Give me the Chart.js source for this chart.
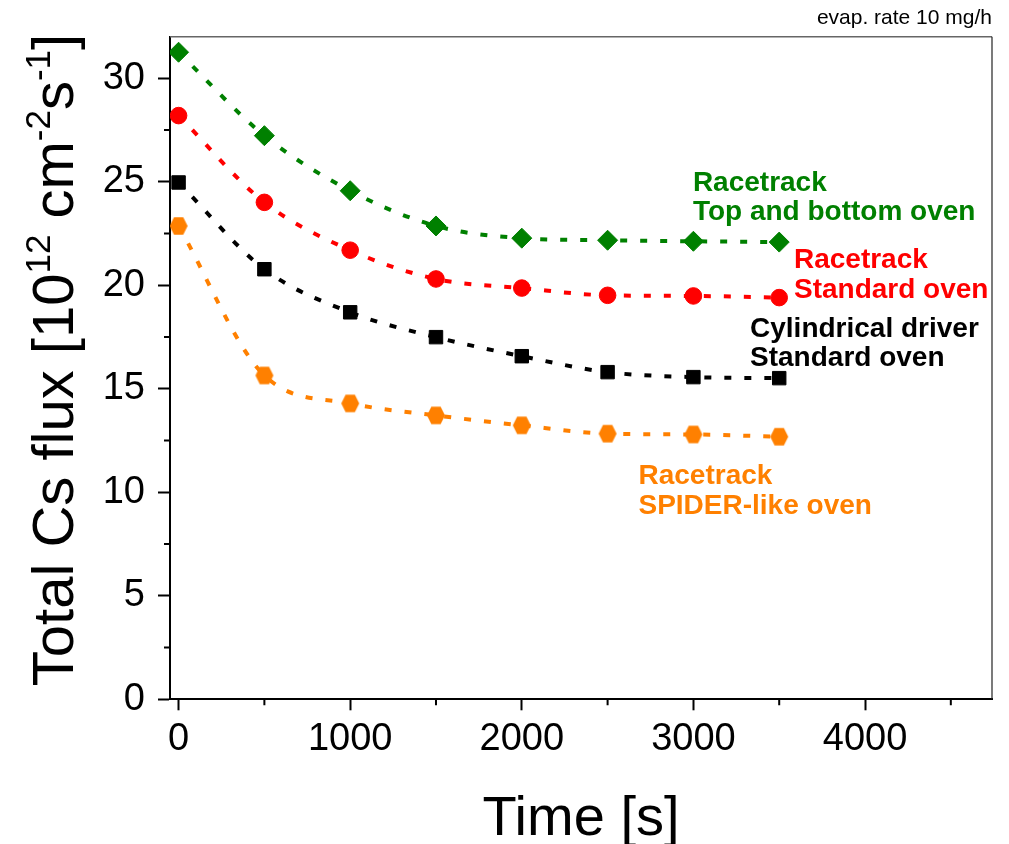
<!DOCTYPE html>
<html><head><meta charset="utf-8">
<script src="https://cdn.jsdelivr.net/npm/chart.js@4/dist/chart.umd.min.js"></script>
<style>html,body{margin:0;padding:0;background:#fff;}#wrap{width:1009px;height:844px;position:relative}</style>
</head><body><div id="wrap"><canvas id="c" width="1009" height="844"></canvas></div>
<script>
// ---- data ----
const timeS = [0, 500, 1000, 1500, 2000, 2500, 3000, 3500];
const fluxTopBottom = [31.25, 27.22, 24.56, 22.86, 22.27, 22.17, 22.12, 22.08];
const fluxRacetrackStd = [28.19, 24.00, 21.69, 20.30, 19.86, 19.51, 19.48, 19.40];
const fluxCylindricalStd = [24.96, 20.77, 18.69, 17.49, 16.57, 15.80, 15.56, 15.51];
const fluxSpiderLike = [22.86, 15.64, 14.29, 13.71, 13.23, 12.83, 12.79, 12.68];
const xMajorTicks = [0, 1000, 2000, 3000, 4000];
const xMinorTicks = [500, 1500, 2500, 3500, 4500];
const yMajorTicks = [0, 5, 10, 15, 20, 25, 30];
const yMinorTicks = [2.5, 7.5, 12.5, 17.5, 22.5, 27.5];
const seriesLabels = [
  ["Racetrack", "Top and bottom oven"],
  ["Racetrack", "Standard oven"],
  ["Cylindrical driver", "Standard oven"],
  ["Racetrack", "SPIDER-like oven"]
];
const labelAnchors = [[2997, 24.56], [3586, 20.81], [3330, 17.51], [2680, 10.38]];
const colors = ["#008000", "#ff0000", "#000000", "#ff8000"];
const noteText = "evap. rate 10 mg/h";

const FONT = '"Liberation Sans", Arial, sans-serif';

function hexCanvas(color) {
  const c = document.createElement('canvas');
  c.width = 22; c.height = 22;
  const g = c.getContext('2d');
  const cx = 11, cy = 11, hw = 9, hh = 8.8, q = 4.6;
  g.fillStyle = color;
  g.beginPath();
  g.moveTo(cx - hw, cy);
  g.lineTo(cx - q, cy - hh);
  g.lineTo(cx + q, cy - hh);
  g.lineTo(cx + hw, cy);
  g.lineTo(cx + q, cy + hh);
  g.lineTo(cx - q, cy + hh);
  g.closePath();
  g.fill();
  return c;
}

const pts = arr => timeS.map((t, i) => ({ x: t, y: arr[i] }));
function ds(arr, color, style, radius) {
  return {
    data: pts(arr), borderColor: color, backgroundColor: color,
    borderWidth: 4, borderDash: [7, 13], borderCapStyle: 'butt',
    showLine: true, cubicInterpolationMode: 'monotone', fill: false,
    pointStyle: style, pointRadius: radius, pointHoverRadius: radius,
    pointBackgroundColor: color, pointBorderColor: color, pointBorderWidth: 1
  };
}

const decor = {
  id: 'decor',
  afterDraw(chart) {
    const ctx = chart.ctx, a = chart.chartArea;
    const xs = chart.scales.x, ys = chart.scales.y;
    ctx.save();
    // frame top/right
    ctx.strokeStyle = '#666'; ctx.lineWidth = 1.5;
    ctx.beginPath();
    ctx.moveTo(a.left, a.top); ctx.lineTo(a.right, a.top);
    ctx.stroke();
    ctx.strokeStyle = '#222'; ctx.lineWidth = 1.2;
    ctx.beginPath();
    ctx.moveTo(a.right, a.top); ctx.lineTo(a.right, a.bottom);
    ctx.stroke();
    // minor ticks
    ctx.strokeStyle = '#000'; ctx.lineWidth = 2;
    ctx.beginPath();
    xMinorTicks.forEach(v => { const p = xs.getPixelForValue(v); ctx.moveTo(p, a.bottom); ctx.lineTo(p, a.bottom + 6); });
    yMinorTicks.forEach(v => { const p = ys.getPixelForValue(v); ctx.moveTo(a.left - 6, p); ctx.lineTo(a.left, p); });
    ctx.stroke();
    // series labels
    ctx.font = 'bold 28px ' + FONT;
    ctx.textAlign = 'left'; ctx.textBaseline = 'alphabetic';
    seriesLabels.forEach((lines, i) => {
      const x = xs.getPixelForValue(labelAnchors[i][0]);
      const y = ys.getPixelForValue(labelAnchors[i][1]);
      ctx.fillStyle = colors[i];
      lines.forEach((t, k) => ctx.fillText(t, x, y + k * 29.5));
    });
    // note
    ctx.fillStyle = '#000';
    ctx.font = '21px ' + FONT;
    ctx.textAlign = 'right';
    ctx.fillText(noteText, a.right, 24);
    // x title
    ctx.font = '56px ' + FONT;
    ctx.textAlign = 'center';
    ctx.fillText('Time [s]', (a.left + a.right) / 2, 835);
    // y title with superscripts
    const segs = [['Total Cs flux [10', 0], ['12', 1], [' cm', 0], ['-2', 1], ['s', 0], ['-1', 1], [']', 0]];
    const big = '58px ' + FONT, small = '35px ' + FONT;
    let total = 0;
    segs.forEach(s => { ctx.font = s[1] ? small : big; total += ctx.measureText(s[0]).width; });
    ctx.translate(73, 360);
    ctx.rotate(-Math.PI / 2);
    ctx.textAlign = 'left';
    let cx = -total / 2;
    segs.forEach(s => {
      ctx.font = s[1] ? small : big;
      ctx.fillText(s[0], cx, s[1] ? -23 : 0);
      cx += ctx.measureText(s[0]).width;
    });
    ctx.restore();
  }
};

new Chart(document.getElementById('c'), {
  type: 'scatter',
  data: {
    datasets: [
      ds(fluxSpiderLike, colors[3], hexCanvas(colors[3]), 9),
      ds(fluxCylindricalStd, colors[2], 'rect', 9.5),
      ds(fluxRacetrackStd, colors[1], 'circle', 8.3),
      ds(fluxTopBottom, colors[0], 'rectRot', 10)
    ]
  },
  options: {
    responsive: false, animation: false, devicePixelRatio: 1,
    layout: { padding: { top: 36.7, right: 17, left: 0, bottom: 0 } },
    plugins: { legend: { display: false }, tooltip: { enabled: false } },
    scales: {
      x: {
        type: 'linear', min: -50, max: 4740,
        afterBuildTicks: s => { s.ticks = xMajorTicks.map(v => ({ value: v })); },
        afterFit: s => { s.height = 144.7; },
        ticks: { callback: v => String(v), font: { family: FONT, size: 38 }, color: '#000', padding: 6, maxRotation: 0, autoSkip: false },
        grid: { drawOnChartArea: false, drawTicks: true, tickLength: 11, tickWidth: 2, tickColor: '#000' },
        border: { display: true, color: '#000', width: 2 }
      },
      y: {
        type: 'linear', min: 0, max: 32,
        afterBuildTicks: s => { s.ticks = yMajorTicks.map(v => ({ value: v })); },
        afterFit: s => { s.width = 170; },
        ticks: { callback: v => String(v), font: { family: FONT, size: 38 }, color: '#000', padding: 13, autoSkip: false },
        grid: { drawOnChartArea: false, drawTicks: true, tickLength: 12, tickWidth: 2, tickColor: '#000' },
        border: { display: true, color: '#000', width: 2 }
      }
    }
  },
  plugins: [decor]
});
</script></body></html>
